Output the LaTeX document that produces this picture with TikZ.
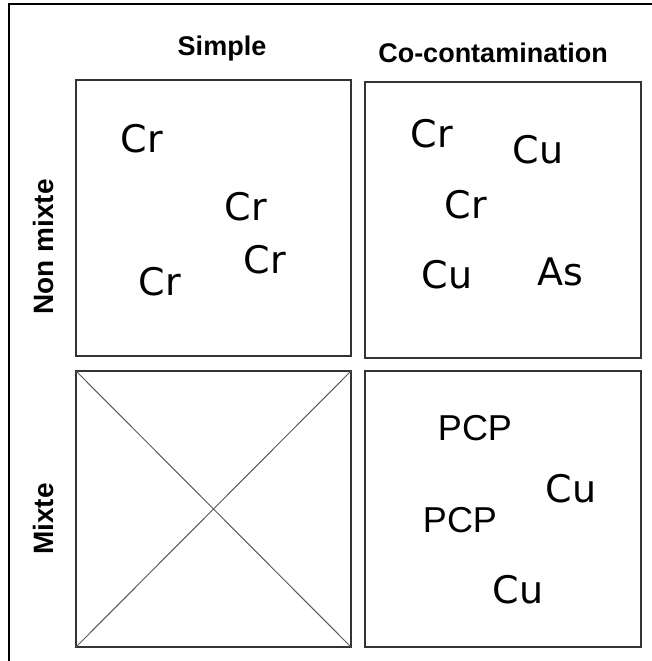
\documentclass[tikz,border=0pt]{standalone}
\usepackage{fontspec}
\newfontfamily\elemfont{DejaVu Sans}
\newfontfamily\labelfont{Liberation Sans}
\begin{document}
\begin{tikzpicture}[x=1pt,y=-1pt,
  cell/.style={draw=black!80, line width=1.8pt},
  elem/.style={anchor=base, inner sep=0pt, font=\elemfont\fontsize{38}{38}\selectfont},
  comp/.style={anchor=base, inner sep=0pt, font=\labelfont\fontsize{36}{36}\selectfont},
  head/.style={anchor=base, inner sep=0pt, font=\labelfont\bfseries\fontsize{27}{27}\selectfont},
  side/.style={anchor=base, inner sep=0pt, rotate=90, font=\labelfont\bfseries\fontsize{28}{28}\selectfont}]
\useasboundingbox (0,0) rectangle (652,661);
% frame
\draw[line width=2pt] (9,661) -- (9,4) -- (652,4);
% column and row headings
\node[head] (hsimple) at (222,56) {Simple};
\node[head] (hco) at (493,63) {Co-contamination};
\node[side] (hnon) at (53,247) {Non mixte};
\node[side] (hmix) at (53,519) {Mixte};
% cells
\draw[cell] (76,80) rectangle (351,356);
\draw[cell] (365,82) rectangle (641,358);
\draw[cell] (76,371) rectangle (351,647);
\draw[cell] (365,371) rectangle (641,647);
\draw[black!65, line width=1pt] (76,371) -- (351,647) (351,371) -- (76,647);
% simple, non mixte
\node[elem] (a1) at (142,152) {Cr};
\node[elem] (a2) at (246,220) {Cr};
\node[elem] (a3) at (265,273) {Cr};
\node[elem] (a4) at (160,295) {Cr};
% co-contamination, non mixte
\node[elem] (b1) at (432,147) {Cr};
\node[elem] (b2) at (538,163) {Cu};
\node[elem] (b3) at (466,218) {Cr};
\node[elem] (b4) at (447,288) {Cu};
\node[elem] (b5) at (560,285) {As};
% co-contamination, mixte
\node[comp] (c1) at (475,440) {PCP};
\node[elem] (c2) at (571,502) {Cu};
\node[comp] (c3) at (460,532) {PCP};
\node[elem] (c4) at (518,603) {Cu};
\end{tikzpicture}
\end{document}
